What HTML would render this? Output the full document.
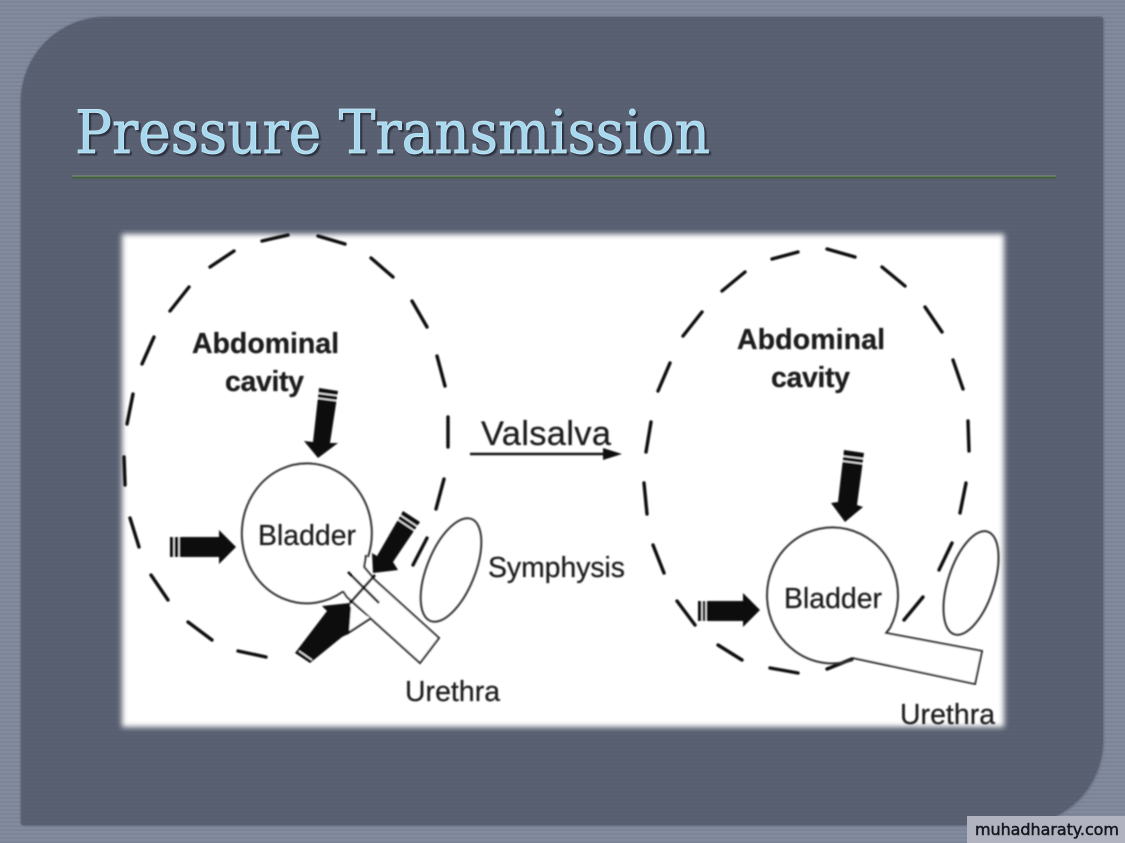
<!DOCTYPE html>
<html>
<head>
<meta charset="utf-8">
<style>
html,body{margin:0;padding:0;background:#7c8498}
body{width:1125px;height:843px;position:relative;overflow:hidden}
#bg{position:absolute;inset:0;background:repeating-linear-gradient(0deg,#7c8498 0,#7c8498 2px,#838b9f 2px,#838b9f 4px)}
#panel{position:absolute;left:22px;top:18px;width:1081px;height:807px;background:repeating-linear-gradient(0deg,#575e6f 0,#575e6f 2px,#5a6172 2px,#5a6172 4px);border-radius:85px 0 85px 0;box-shadow:-1px -1px 2px #4a5062,1px 1px 2px #6a7084}
#white{position:absolute;left:122px;top:234px;width:882px;height:493px;background:#fff;filter:blur(3px)}
svg{position:absolute;left:0;top:0}
#wm{position:absolute;left:967px;top:816px;width:158px;height:27px;background:#b1b4c0}
.lab{font-family:"Liberation Sans",Arial,sans-serif;fill:#1a1a1a;stroke:#1a1a1a;stroke-width:.25px}
.title{font-family:"DejaVu Serif","Liberation Serif",serif;font-size:60px}
.wmt{font-family:"DejaVu Sans","Liberation Sans",sans-serif;font-size:16px;fill:#15181f;stroke:#15181f;stroke-width:.5px}
</style>
</head>
<body>
<div id="bg"></div>
<div id="panel"></div>
<div id="white"></div>
<svg width="1125" height="843" viewBox="0 0 1125 843" xmlns="http://www.w3.org/2000/svg">
  <defs>
    <filter id="s" x="-5%" y="-5%" width="110%" height="110%"><feGaussianBlur stdDeviation="0.7"/></filter>
    <filter id="t" x="-5%" y="-20%" width="110%" height="140%"><feGaussianBlur stdDeviation="0.6"/></filter>
  </defs>

  <!-- title -->
  <text class="title" x="77" y="155" textLength="635" lengthAdjust="spacingAndGlyphs" fill="#2b3140" stroke="#2b3140" stroke-width="0.8" filter="url(#t)">Pressure Transmission</text>
  <text class="title" x="75" y="153" textLength="635" lengthAdjust="spacingAndGlyphs" fill="#a6d9ef" stroke="#cdeaf6" stroke-width="0.7">Pressure Transmission</text>
  <rect x="72" y="175.5" width="984" height="1" fill="#88947f"/>
  <rect x="72" y="176.5" width="984" height="2" fill="#3f5f3c"/>

  <g filter="url(#s)">
    <!-- left dashed cavity -->
    <g stroke="#111" stroke-width="3.4" stroke-linecap="round" fill="none">
      <path d="M127 424L133 394M142 364L154 337M170 311L189 287M210 267L234 251M262 241L288 235M318 236L345 244M371 258L393 277M412 301L427 327M437 356L445 386M448 417L448 447M444 479L436 509M427 538L413 565"/>
      <path d="M124 457L125 485M130 518L139 547M151 575L168 600M188 622L212 640M238 651L266 657"/>
      <!-- right dashed cavity -->
      <path d="M646 452L651 422M658 391L670 363M683 336L702 312M722 291L745 272M772 259L798 252M827 249L855 257M882 267L905 286M925 307L942 332M953 360L963 389M968 421L969 451M966 483L960 513M952 543L939 570M923 597L904 620"/>
      <path d="M644 483L647 514M653 545L664 573M677 601L695 625M718 645L742 660M770 668L798 673M827 669L852 659"/>
    </g>

    <!-- left bladder and urethra -->
    <g stroke="#333" stroke-width="2" fill="none">
      <path d="M368 557A65 70 0 1 0 343 591.5"/>
      <path d="M366 555L364 567L375 580L439 638L420 663L347 597L343 591" fill="#fff" stroke="#222"/>
      <ellipse cx="451" cy="570" rx="24" ry="55" transform="rotate(22 451 570)"/>
      <ellipse cx="971" cy="583" rx="23" ry="54" transform="rotate(18 971 583)"/>
      <!-- right bladder and urethra -->
      <path d="M890 628A65.5 68 0 1 0 853 660"/>
      <path d="M890 628L886 633L982 651L975 684L853 658" fill="#fff" stroke="#222"/>
    </g>
    <path d="M350 607L348 633L371 618" fill="#fff" stroke="#111" stroke-width="2"/>
    <path d="M348 572L379 603M375 575L350 603" stroke="#111" stroke-width="2.6" fill="none"/>

    <!-- arrows -->
    <g fill="#0a0a0a">
      <path d="M319 388L338 391L330 443L338 443L318 458L304 441L313 442Z"/>
      <path d="M170 537L219 537L219 530L236 547L219 564L219 557L170 557Z"/>
      <path d="M403 511L420 522L393 562L398 570L373 573L372 553L377 556Z"/>
      <path d="M350 603L322 606L327 611L295 653L310 663L342 637L348 634Z"/>
      <path d="M844 450L864 453L857 505L863 507L845 522L831 503L838 502Z"/>
      <path d="M698 601L743 601L743 593L760 610L743 627L743 621L698 621Z"/>
    </g>
    <!-- arrow stripes -->
    <g stroke="#fff" stroke-width="1.3">
      <path d="M317 393L340 396M316 398L339 401"/>
      <path d="M174 536V558M179 536V558"/>
      <path d="M400 515L418 527M397 519L415 531"/>
      <path d="M299 651L312 660"/>
      <path d="M842 456L866 459M842 461L865 464"/>
      <path d="M702 600V622M706 600V622"/>
    </g>

    <!-- Valsalva arrow -->
    <path d="M470 454L608 454" stroke="#111" stroke-width="2.4"/>
    <path d="M622 454L603 448L603 460Z" fill="#111"/>

    <!-- labels -->
    <g class="lab" font-weight="bold" style="font-weight:700;font-size:28.5px">
      <text x="192" y="353" textLength="147">Abdominal</text>
      <text x="225" y="391" textLength="79">cavity</text>
      <text x="737" y="349" textLength="148">Abdominal</text>
      <text x="771" y="387" textLength="79">cavity</text>
    </g>
    <g class="lab" style="font-size:28.4px">
      <text x="258" y="545" textLength="98">Bladder</text>
      <text x="784" y="608" textLength="98">Bladder</text>
      <text x="488" y="577" textLength="137">Symphysis</text>
      <text x="405" y="701" textLength="95">Urethra</text>
      <text x="900" y="724" textLength="95">Urethra</text>
    </g>
    <text class="lab" x="481" y="445" style="font-size:34.4px" textLength="130">Valsalva</text>
  </g>
</svg>
<div id="wm"></div>
<svg width="1125" height="843" viewBox="0 0 1125 843" xmlns="http://www.w3.org/2000/svg">
  <text class="wmt" x="975" y="835" textLength="144">muhadharaty.com</text>
</svg>
</body>
</html>
